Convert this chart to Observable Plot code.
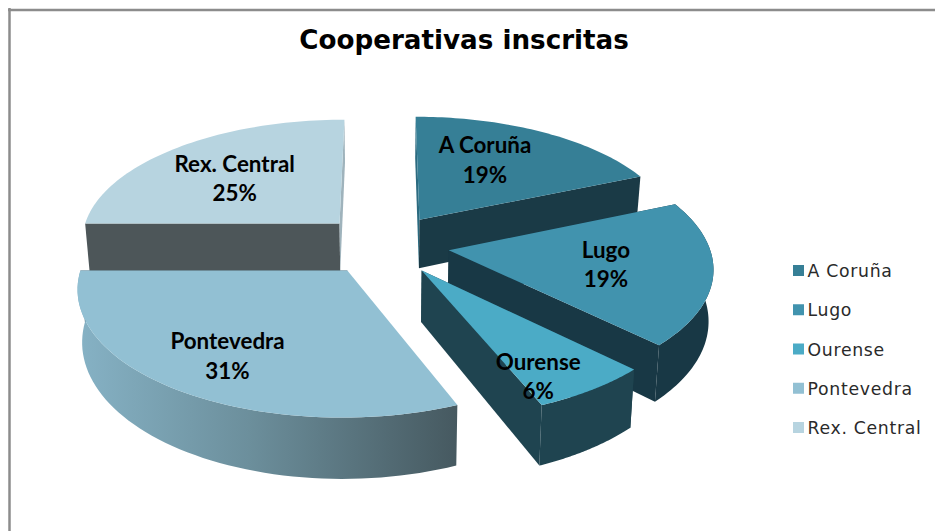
<!DOCTYPE html>
<html>
<head>
<meta charset="utf-8">
<script src="https://cdn.jsdelivr.net/npm/d3@7"></script>
<script src="https://cdn.jsdelivr.net/npm/@observablehq/plot@0.6"></script>
<style>html,body{margin:0;padding:0;background:#fff}svg{display:block}.legend-text text{letter-spacing:.7px}</style>
</head>
<body>
<div id="chart"></div>
<script>
const title = "Cooperativas inscritas";
const names = ["A Coruña", "Lugo", "Ourense", "Pontevedra", "Rex. Central"];
const values = [18.6, 18.8, 6.4, 31.2, 25];
const topColors = ["#367f96", "#4193ae", "#4babc6", "#92c0d3", "#b7d4e0"];
const outerColors = ["none", "#183845", "#1f4450", "url(#pontevedraWall)", "none"];
const startColors = ["#2c6b80", "#183845", "#1f4450", "none", "#4d5659"];
const endColors = ["#1a3a46", "#183845", "#1f4450", "#4a5c63", "#9fb3bc"];
const labelRadius = [0.62, 0.60, 0.84, 0.735, 0.60];
const labelAngle = [27.4, 101, 153, 213.2, 312.6];
const drawOrder = [4, 0, 1, 2, 3];

// Perspective view of the exploded pie
const view = {cx: 384, cy: 244, R: 260, tilt: 0.468, persp: 0.125, explode: 0.25, depth: 50, shrink: 0.985};

const total = d3.sum(values);
const cumulative = d3.cumsum(values);
const slices = names.map((name, i) => {
  const a1 = ((cumulative[i] - values[i]) / total) * 2 * Math.PI;
  const a2 = (cumulative[i] / total) * 2 * Math.PI;
  const mid = (a1 + a2) / 2;
  return {name, i, a1, a2, mid, ex: view.explode * Math.sin(mid), ey: view.explode * Math.cos(mid)};
});

function project(X, Y, lower = false) {
  const w = 1 + view.persp * Y;
  let x = view.cx + (view.R * X) / w;
  let y = view.cy - (view.R * view.tilt * Y) / w;
  if (lower) {
    x = view.cx + (x - view.cx) * view.shrink;
    y += view.depth / Math.pow(w, 1.25);
  }
  return {x, y};
}
const rim = (s, a, lower = false) => project(s.ex + Math.sin(a), s.ey + Math.cos(a), lower);
const hub = (s, lower = false) => project(s.ex, s.ey, lower);
const arcAngles = (s) => d3.range(0, 61).map((k) => s.a1 + ((s.a2 - s.a1) * k) / 60);

const polyMark = (pts, options) => Plot.line(pts, {x: "x", y: "y", curve: "linear-closed", stroke: "none", ...options});

const sliceMarks = drawOrder.flatMap((i) => {
  const s = slices[i];
  const angles = arcAngles(s);
  const startWall = [hub(s), rim(s, s.a1), rim(s, s.a1, true), hub(s, true)];
  const endWall = [hub(s), rim(s, s.a2), rim(s, s.a2, true), hub(s, true)];
  const outerWall = [...angles.map((a) => rim(s, a)), ...angles.slice().reverse().map((a) => rim(s, a, true))];
  const top = [hub(s), ...angles.map((a) => rim(s, a))].map((p) => ({...p, name: s.name}));
  return [
    polyMark(startWall, {fill: startColors[i]}),
    polyMark(endWall, {fill: endColors[i]}),
    polyMark(outerWall, {fill: outerColors[i]}),
    polyMark(top, {z: "name", fill: "name"})
  ];
});

const labels = slices.map((s, i) => {
  const a = (labelAngle[i] * Math.PI) / 180;
  return {
    ...project(s.ex + labelRadius[i] * Math.sin(a), s.ey + labelRadius[i] * Math.cos(a)),
    text: `${s.name}\n${Math.round(values[i])}%`
  };
});

const legendY = d3.scalePoint().domain(names).range([270.5, 427.5]);

const defs = () => {
  const d = d3.create("svg:defs");
  const g = d.append("linearGradient").attr("id", "pontevedraWall");
  [["0%", "#86b2c5"], ["45%", "#6c8f9c"], ["100%", "#465960"]].forEach(([o, c]) =>
    g.append("stop").attr("offset", o).attr("stop-color", c));
  return d.node();
};

const chart = Plot.plot({
  width: 935,
  height: 531,
  margin: 0,
  style: {background: "#fff"},
  x: {domain: [0, 935], range: [0, 935], axis: null},
  y: {domain: [0, 531], range: [0, 531], axis: null},
  color: {domain: names, range: topColors},
  marks: [
    defs,
    Plot.ruleY([9.5], {x1: 8, x2: 935, stroke: "#8c8c8c", strokeWidth: 2.5}),
    Plot.ruleX([9], {y1: 8, y2: 531, stroke: "#8c8c8c", strokeWidth: 2.5}),
    ...sliceMarks,
    Plot.text(labels, {x: "x", y: "y", text: "text", fontFamily: "Lato", fontWeight: "bold", fontSize: 22.4, lineHeight: 1.32, fill: "#000", dy: -1.5}),
    Plot.text([title], {x: () => 463.5, y: () => 40, text: (d) => d, fontFamily: "DejaVu Sans", fontWeight: "bold", fontSize: 26.2, fill: "#000"}),
    Plot.rect(names, {x1: () => 793, x2: () => 804, y1: (d) => legendY(d) - 5.5, y2: (d) => legendY(d) + 5.5, fill: (d) => d}),
    Plot.text(names, {x: () => 807, y: (d) => legendY(d) + 0.5, text: (d) => d, textAnchor: "start", fontFamily: "DejaVu Sans", fontSize: 17.3, fill: "#2a2a2a", className: "legend-text"})
  ]
});
document.getElementById("chart").append(chart);
</script>
</body>
</html>
